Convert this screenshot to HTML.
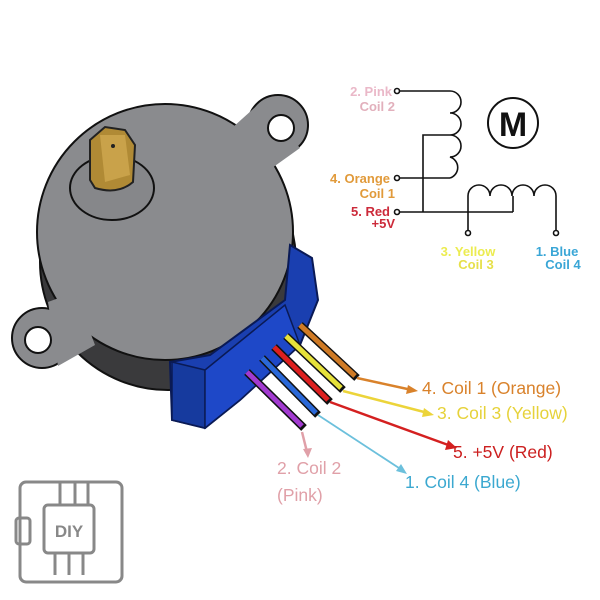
<!DOCTYPE html>
<html><head><meta charset="utf-8"><style>
html,body{margin:0;padding:0;background:#fff;width:600px;height:600px;overflow:hidden}
svg text{font-family:"Liberation Sans","DejaVu Sans",sans-serif}
</style></head><body>
<svg width="600" height="600" viewBox="0 0 600 600" xmlns="http://www.w3.org/2000/svg">
<rect width="600" height="600" fill="#fff"/>
<!-- side cylinder -->
<circle cx="168" cy="262" r="128" fill="#3a3a3c" stroke="#111" stroke-width="2"/>
<!-- ears -->
<circle cx="278" cy="125" r="30" fill="#8a8b8e" stroke="#111" stroke-width="2"/>
<circle cx="42" cy="338" r="30" fill="#8a8b8e" stroke="#111" stroke-width="2"/>
<!-- top face -->
<circle cx="165" cy="232" r="128" fill="#8a8b8e" stroke="#111" stroke-width="2"/>
<path d="M232,128 L262,101 L300,148 L272,168 Z" fill="#8a8b8e"/>
<path d="M48,302 L75,292 L95,345 L58,366 Z" fill="#8a8b8e"/>
<circle cx="281" cy="128" r="13" fill="#fff" stroke="#111" stroke-width="2"/>
<circle cx="38" cy="340" r="13" fill="#fff" stroke="#111" stroke-width="2"/>
<!-- boss & shaft -->
<ellipse cx="112" cy="188" rx="42" ry="32" fill="#86878a" stroke="#111" stroke-width="2"/>
<path d="M90,140 L105,127 L125,130 L135,145 L133,182 Q118,195 95,188 L90,180 Z" fill="#b08a35" stroke="#222" stroke-width="2"/>
<path d="M100,135 L125,135 L130,175 L105,182 Z" fill="#c9a24a"/>
<circle cx="113" cy="146" r="2" fill="#222"/>
<!-- connector -->
<path d="M290,245 L312,258 L318,300 L300,345 L240,400 L205,428 L172,420 L170,362 L210,355 L285,300 Z" fill="#1a3fb0" stroke="#0a1a55" stroke-width="2"/>
<path d="M172,362 L205,370 L205,428 L172,420 Z" fill="#163a9e" stroke="#0a1a55" stroke-width="1.5"/>
<path d="M205,370 L285,305 L300,345 L240,400 L205,428 Z" fill="#1e48c8" stroke="#0a1a55" stroke-width="1.5"/>
<!-- wires -->
<g stroke-linecap="butt">
<line x1="300" y1="325" x2="357" y2="378" stroke="#111" stroke-width="8"/><line x1="300" y1="325" x2="355" y2="376" stroke="#cf7a25" stroke-width="5"/>
<line x1="286" y1="336" x2="343" y2="390" stroke="#111" stroke-width="8"/><line x1="286" y1="336" x2="341" y2="388" stroke="#e6e13a" stroke-width="5"/>
<line x1="274" y1="347" x2="330" y2="402" stroke="#111" stroke-width="8"/><line x1="274" y1="347" x2="328" y2="400" stroke="#dd1f1f" stroke-width="5"/>
<line x1="262" y1="358" x2="318" y2="415" stroke="#111" stroke-width="8"/><line x1="262" y1="358" x2="316" y2="413" stroke="#2a68d8" stroke-width="5"/>
<line x1="247" y1="372" x2="304" y2="428" stroke="#111" stroke-width="8"/><line x1="247" y1="372" x2="302" y2="426" stroke="#a23ad0" stroke-width="5"/>
</g>
<!-- arrows -->
<g stroke-width="2.5" fill="none">
<line x1="357" y1="378" x2="412" y2="390" stroke="#d9822b"/>
<line x1="343" y1="391" x2="428" y2="413" stroke="#ecd43a"/>
<line x1="330" y1="402" x2="451" y2="446" stroke="#d42020"/>
<line x1="318" y1="415" x2="402" y2="470" stroke="#6cc0dc" stroke-width="1.8"/>
<line x1="302" y1="432" x2="307" y2="452" stroke="#e0a0a8"/>
</g>
<polygon points="418,391 406,394 408,385" fill="#d9822b"/>
<polygon points="434,415 422,417 424,408" fill="#ecd43a"/>
<polygon points="457,448 445,450 448,440" fill="#d42020"/>
<polygon points="407,474 396,471 401,464" fill="#6cc0dc"/>
<polygon points="308,458 303,449 312,448" fill="#e0a0a8"/>
<!-- labels -->
<g font-size="17.5">
<text x="422" y="394" fill="#d9822b">4. Coil 1 (Orange)</text>
<text x="437" y="419" fill="#e6d23a">3. Coil 3 (Yellow)</text>
<text x="453" y="458" fill="#cc2020">5. +5V (Red)</text>
<text x="405" y="488" fill="#3ba8d0">1. Coil 4 (Blue)</text>
<text x="277" y="474" fill="#e0a0a8">2. Coil 2</text>
<text x="277" y="501" fill="#e0a0a8">(Pink)</text>
</g>
<!-- schematic -->
<g stroke="#111" stroke-width="1.6" fill="none">
<line x1="400" y1="91" x2="450" y2="91"/>
<path d="M450,91 a11,11 0 0 1 0,22 a11,11 0 0 1 0,22 a11,11 0 0 1 0,22 a11,11 0 0 1 0,21"/>
<line x1="400" y1="178" x2="450" y2="178"/>
<polyline points="450,135 423,135 423,212"/>
<line x1="400" y1="212" x2="513" y2="212"/>
<polyline points="468,230 468,196"/>
<path d="M468,196 a11,11 0 0 1 22,0 a11,11 0 0 1 22,0 a11,11 0 0 1 22,0 a11,11 0 0 1 22,0"/>
<polyline points="556,196 556,230"/>
<line x1="513" y1="196" x2="513" y2="212"/>
<circle cx="397" cy="91" r="2.5" fill="#fff"/>
<circle cx="397" cy="178" r="2.5" fill="#fff"/>
<circle cx="397" cy="212" r="2.5" fill="#fff"/>
<circle cx="468" cy="233" r="2.5" fill="#fff"/>
<circle cx="556" cy="233" r="2.5" fill="#fff"/>
<circle cx="513" cy="123" r="25" stroke-width="2"/>
</g>
<text x="513" y="136" font-size="34" font-weight="bold" text-anchor="middle" fill="#111">M</text>
<g font-size="13" font-weight="bold" text-anchor="end">
<text x="392" y="96" fill="#eab8c8">2. Pink</text>
<text x="395" y="111" fill="#e2b0bc">Coil 2</text>
<text x="390" y="183" fill="#e19a3a">4. Orange</text>
<text x="395" y="198" fill="#e19a3a">Coil 1</text>
<text x="390" y="216" fill="#cc2a3a">5. Red</text>
<text x="395" y="228" fill="#cc2a3a">+5V</text>
</g>
<g font-size="13" font-weight="bold" text-anchor="middle">
<text x="468" y="256" fill="#ecec50">3. Yellow</text>
<text x="476" y="269" fill="#e6e04a">Coil 3</text>
<text x="557" y="256" fill="#3aa6d6">1. Blue</text>
<text x="563" y="269" fill="#3aa6d6">Coil 4</text>
</g>
<!-- DIY logo -->
<g stroke="#888" stroke-width="3" fill="none">
<rect x="20" y="482" width="102" height="100" rx="6"/>
<rect x="44" y="505" width="50" height="48" rx="4"/>
<rect x="16" y="518" width="14" height="26" rx="3"/>
<line x1="55" y1="553" x2="55" y2="575"/><line x1="69" y1="553" x2="69" y2="575"/><line x1="83" y1="553" x2="83" y2="575"/>
<line x1="60" y1="482" x2="60" y2="505"/><line x1="75" y1="482" x2="75" y2="505"/><line x1="88" y1="482" x2="88" y2="505"/>
</g>
<text x="69" y="537" font-size="17" font-weight="bold" text-anchor="middle" fill="#888">DIY</text>
</svg>
</body></html>
